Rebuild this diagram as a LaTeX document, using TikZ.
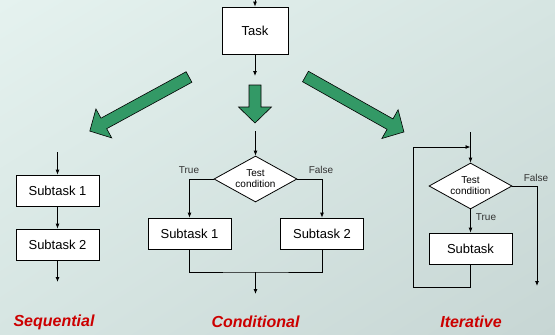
\documentclass[tikz,border=0pt]{standalone}
\usepackage{fontspec}
\setmainfont{Liberation Sans}
\usetikzlibrary{shapes.geometric,arrows.meta,shadings}

\definecolor{bgtop}{RGB}{229,242,239}
\definecolor{bgmid}{RGB}{214,229,226}
\definecolor{bgbot}{RGB}{199,214,212}
\definecolor{arrowgreen}{RGB}{51,153,102}
\definecolor{titlered}{RGB}{204,0,0}
\definecolor{labelgray}{RGB}{51,51,51}

\tikzset{
  taskbox/.style={draw, fill=white, minimum width=83pt, minimum height=31pt, inner sep=0pt, font=\fontsize{13}{15}\selectfont},
  testbox/.style={draw, fill=white, diamond, aspect=1.8, minimum width=83pt, minimum height=46pt, inner sep=0pt, align=center, font=\fontsize{10}{11}\selectfont},
  flow/.style={-{Latex[length=5pt,width=4pt]}},
  branch/.style={font=\fontsize{10}{12}\selectfont, text=labelgray},
  title/.style={font=\fontsize{16}{18}\selectfont\bfseries\itshape, text=titlered},
  greenarrow/.style={draw=black, fill=arrowgreen, line width=0.6pt, line join=miter}
}

\begin{document}
\begin{tikzpicture}[x=1pt, y=-1pt, line width=0.8pt]

\useasboundingbox (0,0) rectangle (555,335);
\shade[upper left=bgtop, upper right=bgmid, lower left=bgmid, lower right=bgbot] (0,0) rectangle (555,335);

% top task
\coordinate (taskin) at (255,0);
\node[taskbox, minimum width=66pt, minimum height=47pt] (task) at (255,30.5) {Task};
\coordinate (taskout) at (255,76);
\draw[flow] (taskin) -- (task);
\draw[flow] (task) -- (taskout);

% big green arrows
\foreach \x/\y/\a/\l in {189/77/208.6/113, 255/85/-90/38, 305.5/76.5/-29.4/113}
{
  \draw[greenarrow, shift={(\x,\y)}, rotate=\a] (0,-6) -- (\l-16,-6) -- (\l-16,-16.5) -- (\l,0) -- (\l-16,16.5) -- (\l-16,6) -- (0,6) -- cycle;
}

% sequential
\coordinate (seqin) at (57.5,152);
\node[taskbox] (seq1) at (57.5,190.5) {Subtask 1};
\node[taskbox] (seq2) at (57.5,244.5) {Subtask 2};
\coordinate (seqout) at (57.5,282);
\draw[flow] (seqin) -- (seq1);
\draw[flow] (seq1) -- (seq2);
\draw[flow] (seq2) -- (seqout);
\node[title] (seqtitle) at (54,322) {Sequential};

% conditional
\coordinate (condin) at (255.5,131);
\node[testbox] (condtest) at (255.5,179) {Test\\condition};
\node[taskbox] (cond1) at (189.5,233.5) {Subtask 1};
\node[taskbox] (cond2) at (322,233.5) {Subtask 2};
\coordinate (condjoin) at (255.5,272);
\coordinate (condout) at (255.5,294);
\draw[flow] (condin) -- (condtest);
\draw[flow] (condtest.west) -| (cond1);
\draw[flow] (condtest.east) -| (cond2);
\draw (cond1) |- (condjoin) -| (cond2);
\draw[flow] (condjoin) -- (condout);
\node[branch] (condtrue) at (189,170) {True};
\node[branch] (condfalse) at (321,170) {False};
\node[title] (condtitle) at (255.5,322) {Conditional};

% iterative
\coordinate (iterin) at (470.5,132);
\coordinate (iterloop) at (470.5,147);
\node[testbox] (itertest) at (470.5,186) {Test\\condition};
\node[taskbox] (itersub) at (470.5,248.5) {Subtask};
\coordinate (iterback) at (413,287);
\coordinate (iterout) at (537,286);
\draw (iterin) -- (iterloop);
\draw[flow] (iterloop) -- (itertest);
\draw[flow] (itertest) -- (itersub);
\draw[flow] (itersub) |- (iterback) |- (iterloop);
\draw[flow] (itertest.east) -| (iterout);
\node[branch] (itertrue) at (486,217) {True};
\node[branch] (iterfalse) at (536,178) {False};
\node[title] (itertitle) at (471,322) {Iterative};

\end{tikzpicture}
\end{document}
